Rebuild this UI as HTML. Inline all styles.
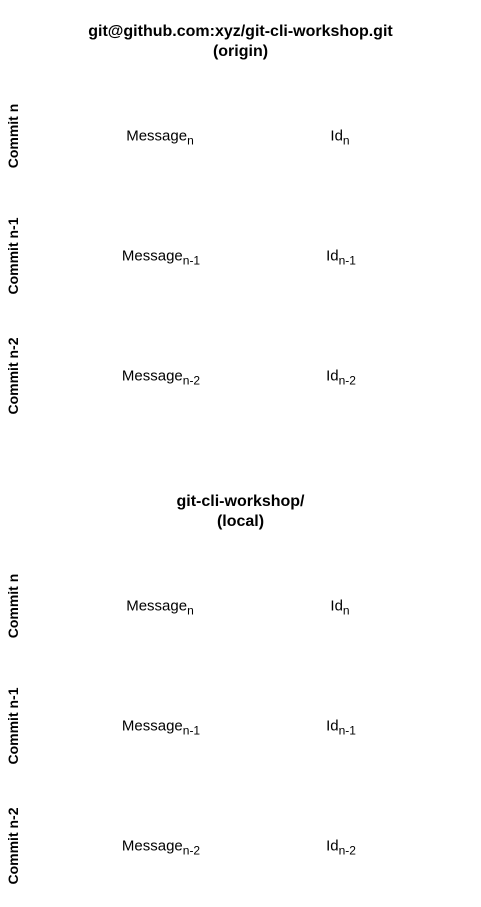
<!DOCTYPE html>
<html><head><style>
body{margin:0;width:481px;height:907px;background:#fff;position:relative;font-family:"Liberation Sans",sans-serif;color:#000;overflow:hidden}
.t{position:absolute;left:0;width:481px;text-align:center;font-weight:bold;font-size:16px;line-height:19.5px}
.v{position:absolute;font-weight:bold;font-size:14px;white-space:nowrap;transform:translate(-50%,-50%) rotate(-90deg)}
.m{position:absolute;font-size:15px;white-space:nowrap;transform:translate(-50%,-50%)}
sub{font-size:12px;vertical-align:-4px;line-height:0}
</style></head><body>
<div class="t" style="top:22px">git@github.com:xyz/git-cli-workshop.git<br>(origin)</div>
<div class="v" style="left:13px;top:136px">Commit n</div>
<div class="v" style="left:13px;top:256px">Commit n-1</div>
<div class="v" style="left:13px;top:376px">Commit n-2</div>
<div class="m" style="left:160px;top:136px">Message<sub>n</sub></div>
<div class="m" style="left:340px;top:136px">Id<sub>n</sub></div>
<div class="m" style="left:161px;top:256px">Message<sub>n-1</sub></div>
<div class="m" style="left:341px;top:256px">Id<sub>n-1</sub></div>
<div class="m" style="left:161px;top:376px">Message<sub>n-2</sub></div>
<div class="m" style="left:341px;top:376px">Id<sub>n-2</sub></div>

<div class="t" style="top:492px">git-cli-workshop/<br>(local)</div>
<div class="v" style="left:13px;top:606px">Commit n</div>
<div class="v" style="left:13px;top:726px">Commit n-1</div>
<div class="v" style="left:13px;top:846px">Commit n-2</div>
<div class="m" style="left:160px;top:606px">Message<sub>n</sub></div>
<div class="m" style="left:340px;top:606px">Id<sub>n</sub></div>
<div class="m" style="left:161px;top:726px">Message<sub>n-1</sub></div>
<div class="m" style="left:341px;top:726px">Id<sub>n-1</sub></div>
<div class="m" style="left:161px;top:846px">Message<sub>n-2</sub></div>
<div class="m" style="left:341px;top:846px">Id<sub>n-2</sub></div>
</body></html>
